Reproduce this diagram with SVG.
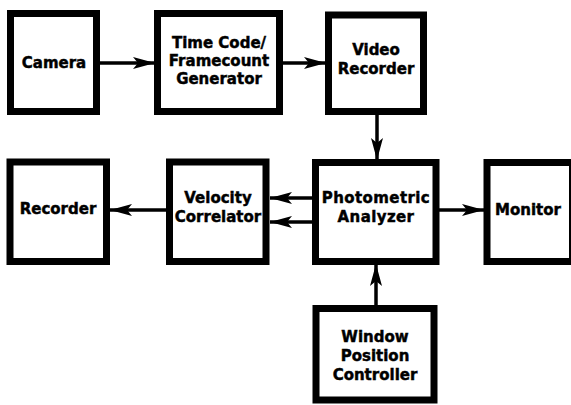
<svg xmlns="http://www.w3.org/2000/svg" width="571" height="405" viewBox="0 0 571 405">
  <style>
    .box { fill: #fff; stroke: #000; stroke-width: 7; }
    .lbl { font-family: "DejaVu Sans", "Liberation Sans", sans-serif; font-weight: bold; font-size: 15px; fill: #000; stroke: #000; stroke-width: 0.45; text-anchor: middle; }
    .wire { stroke: #000; stroke-width: 3.5; fill: none; marker-end: url(#head); }
  </style>
  <defs>
    <marker id="head" markerUnits="userSpaceOnUse" markerWidth="23" markerHeight="12" refX="22" refY="6" orient="auto">
      <path d="M0,0 L22,6 L0,12 L5,6 Z" fill="#000"/>
    </marker>
  </defs>
  <rect width="571" height="405" fill="#fff"/>

  <g id="connectors">
    <line class="wire" x1="100" y1="63" x2="155" y2="63"/>
    <line class="wire" x1="283" y1="63" x2="326" y2="63"/>
    <line class="wire" x1="377" y1="115" x2="377" y2="160"/>
    <line class="wire" x1="312" y1="198" x2="270" y2="198"/>
    <line class="wire" x1="312" y1="222" x2="270" y2="222"/>
    <line class="wire" x1="439" y1="210" x2="484" y2="210"/>
    <line class="wire" x1="166" y1="210" x2="110" y2="210"/>
    <line class="wire" x1="376" y1="305" x2="376" y2="264"/>
  </g>

  <g id="camera">
    <rect class="box" x="10.5" y="13.5" width="86" height="98"/>
    <text class="lbl" x="54" y="68">Camera</text>
  </g>
  <g id="timecode">
    <rect class="box" x="157.5" y="13.5" width="122" height="98"/>
    <text class="lbl" x="219" y="48">Time Code/</text>
    <text class="lbl" x="219" y="66">Framecount</text>
    <text class="lbl" x="219" y="84">Generator</text>
  </g>
  <g id="videorecorder">
    <rect class="box" x="328.5" y="15" width="95" height="96.5"/>
    <text class="lbl" x="376" y="55">Video</text>
    <text class="lbl" x="376" y="74">Recorder</text>
  </g>
  <g id="recorder">
    <rect class="box" x="10" y="162" width="96.5" height="99.5"/>
    <text class="lbl" x="58" y="214">Recorder</text>
  </g>
  <g id="velocity">
    <rect class="box" x="169.5" y="162" width="96.5" height="99.5"/>
    <text class="lbl" x="218" y="203">Velocity</text>
    <text class="lbl" x="218" y="222">Correlator</text>
  </g>
  <g id="photometric">
    <rect class="box" x="315.5" y="162.5" width="120.5" height="99"/>
    <text class="lbl" x="376" y="203" letter-spacing="0.4">Photometric</text>
    <text class="lbl" x="376" y="222" letter-spacing="0.4">Analyzer</text>
  </g>
  <g id="monitor">
    <rect class="box" x="487" y="162.5" width="85.5" height="99"/>
    <text class="lbl" x="528" y="215">Monitor</text>
  </g>
  <g id="window">
    <rect class="box" x="316" y="308.5" width="118" height="91.5"/>
    <text class="lbl" x="375" y="342">Window</text>
    <text class="lbl" x="375" y="361">Position</text>
    <text class="lbl" x="375" y="380">Controller</text>
  </g>
</svg>
